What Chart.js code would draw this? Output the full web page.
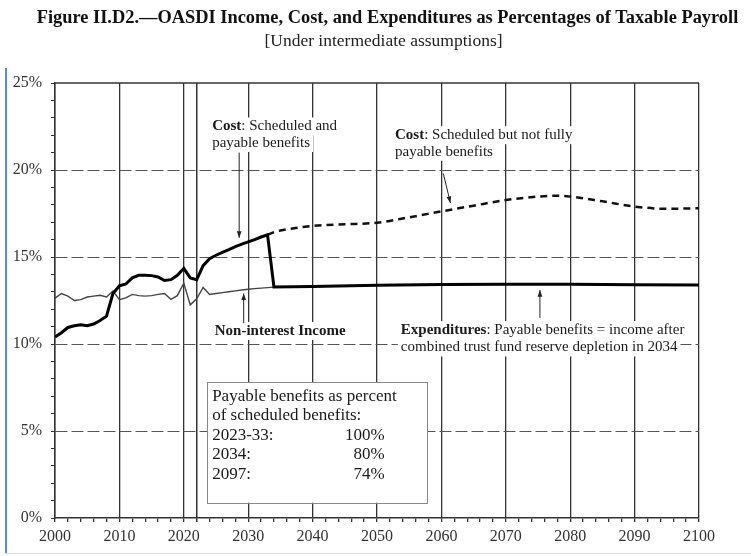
<!DOCTYPE html>
<html><head><meta charset="utf-8">
<script src="https://cdn.jsdelivr.net/npm/chart.js@4.4.1/dist/chart.umd.min.js"></script>
<style>
html,body{margin:0;padding:0;background:#fff;}
#wrap{position:relative;width:751px;height:556px;overflow:hidden;}
canvas{display:block;}
.frameL{position:absolute;left:5px;top:68px;width:2px;height:485px;background:#5a8ad6;}
.frameB{position:absolute;left:5px;top:553px;width:746px;height:1px;background:#d8e0ef;}
.ttl{position:absolute;width:751px;text-align:center;white-space:nowrap;font-family:"Liberation Serif","Times New Roman",serif;color:#111;}
#t1{left:12px;top:6px;font-size:18.4px;line-height:22px;font-weight:bold;}
#t2{left:8px;top:29.5px;font-size:17.5px;line-height:21px;color:#222;}
</style></head><body>
<div id="wrap"><canvas id="c" width="751" height="556"></canvas>
<div class="ttl" id="t1">Figure II.D2.—OASDI Income, Cost, and Expenditures as Percentages of Taxable Payroll</div>
<div class="ttl" id="t2">[Under intermediate assumptions]</div>
<div class="frameL"></div><div class="frameB"></div></div>
<script>
// ---- data (percent of taxable payroll) ----
const histYears = [2000,2001,2002,2003,2004,2005,2006,2007,2008,2009,2010,2011,2012,2013,2014,2015,2016,2017,2018,2019,2020,2021,2022,2023,2024,2025,2026,2027,2028,2029,2030,2031,2032,2033];
const costScheduledPayable = [10.4,10.65,10.95,11.05,11.1,11.05,11.15,11.35,11.6,12.9,13.35,13.45,13.8,13.95,13.95,13.93,13.85,13.65,13.7,13.95,14.35,13.8,13.7,14.5,14.9,15.1,15.27,15.43,15.6,15.74,15.87,16.0,16.15,16.28];
const incomeYears = [2000,2001,2002,2003,2004,2005,2006,2007,2008,2009,2010,2011,2012,2013,2014,2015,2016,2017,2018,2019,2020,2021,2022,2023,2024,2025,2026,2027,2028,2029,2030,2031,2032,2033,2034,2040,2050,2060,2070,2080,2090,2100];
const nonInterestIncome = [12.63,12.9,12.75,12.5,12.55,12.7,12.75,12.8,12.7,13.05,12.55,12.65,12.85,12.78,12.75,12.78,12.85,12.9,12.57,12.78,13.5,12.25,12.6,13.25,12.85,12.9,12.95,13.0,13.05,13.1,13.15,13.18,13.21,13.24,13.27,13.3,13.37,13.42,13.44,13.43,13.41,13.39];
const expYears = [2034,2040,2050,2060,2070,2080,2090,2100];
const expendituresPayable = [13.27,13.3,13.37,13.42,13.44,13.43,13.41,13.39];
const schedYears = [2033,2034,2035,2040,2045,2050,2055,2060,2065,2070,2075,2078,2080,2085,2090,2095,2100];
const costScheduledNotPayable = [16.28,16.42,16.52,16.78,16.88,16.97,17.28,17.62,17.95,18.27,18.47,18.52,18.47,18.2,17.9,17.77,17.8];
const yTickValues = [0,5,10,15,20,25];
const xTickLabels = [2000,2010,2020,2030,2040,2050,2060,2070,2080,2090,2100];
const boxRows = [['2023-33:','100%'],['2034:','80%'],['2097:','74%']];

// ---- helpers ----
const pts = (xs, ys) => xs.map((x, i) => ({x: x, y: ys[i]}));
const SERIF = '"Liberation Serif", "Times New Roman", "DejaVu Serif", serif';

const notes = [
  {x: 2024.4, y: 22.5, lh: 16.5, lines: [[['Cost','bold'],[': Scheduled and','normal']], [['payable benefits','normal']]]},
  {x: 2052.8, y: 22.0, lh: 16.5, lines: [[['Cost','bold'],[': Scheduled but not fully','normal']], [['payable benefits','normal']]]},
  {x: 2024.8, y: 10.75, lh: 16.5, lines: [[['Non-interest Income','bold']]]},
  {x: 2053.7, y: 10.8, lh: 17.3, lines: [[['Expenditures','bold'],[': Payable benefits = income after','normal']], [['combined trust fund reserve depletion in 2034','normal']]]}
];
const arrows = [
  {x1: 2028.6, y1: 21.0, x2: 2028.6, y2: 16.1},
  {x1: 2060.3, y1: 19.8, x2: 2061.4, y2: 18.1},
  {x1: 2029.3, y1: 11.2, x2: 2029.3, y2: 12.9},
  {x1: 2075.3, y1: 11.5, x2: 2075.3, y2: 13.1}
];
const boxPos = {x1: 2023.6, y1: 7.82, x2: 2057.8, y2: 0.88, textX: 2024.4, numX: 2051.2, firstY: 7.0, lh: 19.5};

const notesPlugin = {
  id: 'notes',
  beforeDatasetsDraw(chart) {
    const {ctx, scales: {x, y}} = chart;
    ctx.save();
    notes.forEach(n => {
      const px = x.getPixelForValue(n.x);
      const py0 = y.getPixelForValue(n.y);
      n.lines.forEach((runs, li) => {
        const py = py0 + li * n.lh;
        let w = 0;
        runs.forEach(r => { ctx.font = r[1] + ' 15px ' + SERIF; w += ctx.measureText(r[0]).width; });
        ctx.fillStyle = '#fff';
        ctx.fillRect(px - 3, py - 9, w + 6, 18);
        let cx = px;
        ctx.textBaseline = 'middle';
        ctx.textAlign = 'left';
        runs.forEach(r => {
          ctx.font = r[1] + ' 15px ' + SERIF;
          ctx.fillStyle = '#1a1a1a';
          ctx.fillText(r[0], cx, py);
          cx += ctx.measureText(r[0]).width;
        });
      });
    });
    ctx.strokeStyle = '#222';
    ctx.lineWidth = 1;
    arrows.forEach(a => {
      const x1 = x.getPixelForValue(a.x1), y1 = y.getPixelForValue(a.y1);
      const x2 = x.getPixelForValue(a.x2), y2 = y.getPixelForValue(a.y2);
      ctx.beginPath(); ctx.moveTo(x1, y1); ctx.lineTo(x2, y2); ctx.stroke();
      const ang = Math.atan2(y2 - y1, x2 - x1), L = 7, s = 0.35;
      ctx.beginPath();
      ctx.moveTo(x2, y2);
      ctx.lineTo(x2 - L * Math.cos(ang - s), y2 - L * Math.sin(ang - s));
      ctx.lineTo(x2 - L * Math.cos(ang + s), y2 - L * Math.sin(ang + s));
      ctx.closePath();
      ctx.fillStyle = '#222';
      ctx.fill();
    });
    const bx1 = x.getPixelForValue(boxPos.x1), by1 = y.getPixelForValue(boxPos.y1);
    const bx2 = x.getPixelForValue(boxPos.x2), by2 = y.getPixelForValue(boxPos.y2);
    ctx.fillStyle = '#fff';
    ctx.fillRect(bx1, by1, bx2 - bx1, by2 - by1);
    ctx.strokeStyle = '#888';
    ctx.lineWidth = 1;
    ctx.strokeRect(Math.round(bx1) + 0.5, Math.round(by1) + 0.5, Math.round(bx2 - bx1), Math.round(by2 - by1));
    ctx.font = '17px ' + SERIF;
    ctx.fillStyle = '#1a1a1a';
    ctx.textBaseline = 'middle';
    const tx = x.getPixelForValue(boxPos.textX), nx = x.getPixelForValue(boxPos.numX);
    const ty = y.getPixelForValue(boxPos.firstY);
    ctx.textAlign = 'left';
    ctx.fillText('Payable benefits as percent', tx, ty);
    ctx.fillText('of scheduled benefits:', tx, ty + boxPos.lh);
    boxRows.forEach((r, i) => {
      const yy = ty + boxPos.lh * (i + 2);
      ctx.textAlign = 'left';
      ctx.fillText(r[0], tx, yy);
      ctx.textAlign = 'right';
      ctx.fillText(r[1], nx, yy);
    });
    ctx.restore();
  },
  afterDraw(chart) {
    const {ctx, chartArea: a} = chart;
    ctx.save();
    ctx.strokeStyle = '#333';
    ctx.lineWidth = 1.5;
    ctx.beginPath();
    ctx.moveTo(a.left, a.top); ctx.lineTo(a.right, a.top);
    ctx.stroke();
    ctx.restore();
  }
};

new Chart(document.getElementById('c'), {
  type: 'line',
  data: {
    datasets: [
      {label: 'Cost / Expenditures', data: pts(histYears, costScheduledPayable).concat(pts(expYears, expendituresPayable)),
       borderColor: '#000', borderWidth: 3, pointRadius: 0, tension: 0},
      {label: 'Non-interest Income', data: pts(incomeYears, nonInterestIncome),
       borderColor: '#444', borderWidth: 1.4, pointRadius: 0, tension: 0},
      {label: 'Cost: scheduled, not fully payable', data: pts(schedYears, costScheduledNotPayable),
       borderColor: '#111', borderWidth: 2.5, borderDash: [7, 5], pointRadius: 0, cubicInterpolationMode: 'monotone'}
    ]
  },
  options: {
    responsive: false,
    devicePixelRatio: 1,
    animation: false,
    layout: {padding: {top: 83, right: 52, bottom: 0, left: 0}},
    plugins: {
      legend: {display: false},
      tooltip: {enabled: false},
      title: {display: false},
      subtitle: {display: false}
    },
    scales: {
      x: {
        type: 'linear', min: 2000, max: 2100,
        afterBuildTicks: s => { s.ticks.push({value: 2022}); s.ticks.sort((a, b) => a.value - b.value); },
        afterFit: s => { s.height = 38; },
        ticks: {stepSize: 2, autoSkip: false, maxRotation: 0, padding: 5, color: '#333',
          font: {family: SERIF, size: 16},
          callback: v => xTickLabels.includes(v) ? String(v) : ''},
        grid: {color: c => (c.tick && (c.tick.value % 10 === 0 || c.tick.value === 2022)) ? '#333' : 'rgba(0,0,0,0)',
          lineWidth: 1.3, tickColor: '#333', tickLength: 4},
        border: {color: '#333', width: 1.5}
      },
      y: {
        min: 0, max: 25,
        afterFit: s => { s.width = 55; },
        ticks: {stepSize: 1, autoSkip: false, padding: 9, color: '#333',
          font: {family: SERIF, size: 16},
          callback: v => yTickValues.includes(v) ? v + '%' : ''},
        grid: {color: c => (c.tick && c.tick.value % 5 === 0 && c.tick.value > 0 && c.tick.value < 25) ? '#555' : 'rgba(0,0,0,0)',
          lineWidth: 1, tickColor: '#333', tickLength: 4},
        border: {color: '#333', width: 1.5, dash: [12, 4]}
      }
    }
  },
  plugins: [notesPlugin]
});
</script>
</body></html>
